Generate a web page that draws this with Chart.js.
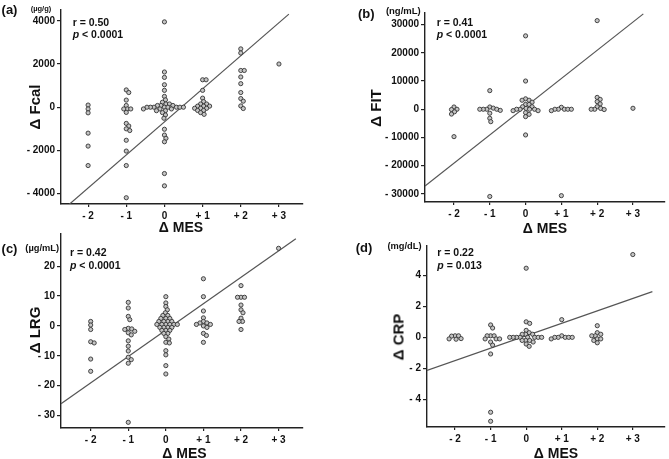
<!DOCTYPE html>
<html>
<head>
<meta charset="utf-8">
<script src="https://cdn.jsdelivr.net/npm/chart.js@4.4.1/dist/chart.umd.min.js"></script>
<style>
    body { margin: 0; background: #fff; width: 669px; height: 459px; position: relative; overflow: hidden;
           font-family: Arial, "Liberation Sans", sans-serif; color: #111; }
    canvas { position: absolute; }
    .c { position: absolute; font-weight: bold; white-space: nowrap; line-height: 1; transform: translate(-50%, -50%); }
    .l { position: absolute; font-weight: bold; white-space: nowrap; line-height: 1; transform: translateY(-50%); }
</style>
</head>
<body>
<canvas id="panelA" width="335" height="236" style="left:0;top:0;width:335px;height:236px"></canvas>
<canvas id="panelB" width="334" height="236" style="left:335px;top:0;width:334px;height:236px"></canvas>
<canvas id="panelC" width="335" height="230" style="left:0;top:229px;width:335px;height:230px"></canvas>
<canvas id="panelD" width="334" height="230" style="left:335px;top:229px;width:334px;height:230px"></canvas>

<script>
// Catégories Δ MES
const mesTicks = [-2, -1, 0, 1, 2, 3];
const mesLabels = ['- 2', '- 1', '0', '+ 1', '+ 2', '+ 3'];

// (a) Δ Fcal (µg/g), un tableau par catégorie de Δ MES
const fcalDelta = [
    [100, -80, -260, -1200, -1800, -2700],
    [800, 680, 330, 80, -80, -80, -80, -240, -750, -870, -1000, -1080, -1530, -2030, -2700, -4190],
    [3950, 1630, 1380, 1040, 780, 500, 340, 230, 150, 150, 80, 80, 80, 0, 0, 0, 0, 0, 0, 0, 0,
     -80, -80, -80, -160, -160, -250, -360, -510, -1020, -1290, -1440, -1600, -3070, -3640],
    [1270, 1270, 780, 420, 260, 150, 150, 50, 50, 50, -50, -50, -50, -150, -150, -250, -330],
    [2700, 2510, 1700, 1700, 1400, 1090, 680, 400, 280, 60, -60],
    [2000]
];
const fcalTicks = [-4000, -2000, 0, 2000, 4000];
const fcalReg = [-680, 1530];        // ordonnée à l'origine, pente
const fcalRegX = [-2.71, 3.26];
const fcalStats = ['r = 0.50', '< 0.0001'];

// (b) Δ FIT (ng/mL)
const fitDelta = [
    [800, 0, -100, -900, -1700, -9700],
    [6600, 800, 400, 0, 0, 0, 0, -400, -1400, -3200, -4400, -30900],
    [26000, 10000, 3700, 3200, 3200, 2500, 1700, 1700, 900, 900, 300, 0, 0, 0, 0, -500, -500, -1200, -1800, -2600, -9100],
    [700, 0, 0, 0, 0, 0, -500, -30600],
    [31400, 4200, 3500, 2700, 1900, 900, 300, 0, 0, -100],
    [350]
];
const fitTicks = [-30000, -20000, -10000, 0, 10000, 20000, 30000];
const fitReg = [900, 10000];
const fitRegX = [-2.81, 3.29];
const fitStats = ['r = 0.41', '< 0.0001'];

// (c) Δ LRG (µg/mL)
const lrgDelta = [
    [1.5, 0.3, -1.2, -5.3, -5.7, -11.1, -15.2],
    [7.9, 6.0, 3.2, 2.1, -0.8, -1.0, -1.2, -1.8, -2.3, -3.0, -5.0, -6.8, -8.4, -10.5, -11.3, -12.5, -32.3],
    [9.8, 7.7, 6.5, 5.4, 4.4, 3.5, 3.5, 2.5, 2.5, 2.5, 1.5, 1.5, 1.5, 1.5, 0.5, 0.5, 0.5, 0.5, 0.5, 0.5,
     -0.5, -0.5, -0.5, -0.5, -1.5, -1.5, -1.5, -2.5, -2.5, -3.6, -4.4, -5.5, -5.7, -8.3, -9.7, -13.3, -16.1],
    [15.8, 9.8, 5.0, 2.7, 1.5, 1.0, 1.0, 0.5, 0.5, 0, -0.5, -2.5, -3.2, -5.5],
    [13.5, 9.6, 9.6, 9.6, 7.0, 5.4, 4.4, 2.6, 1.5, 1.5, -1.2],
    [26.0]
];
const lrgTicks = [-30, -20, -10, 0, 10, 20];
const lrgReg = [-1.4, 8.85];
const lrgRegX = [-2.79, 3.46];
const lrgStats = ['r = 0.42', '< 0.0001'];

// (d) Δ CRP (mg/dL)
const crpDelta = [
    [0.1, 0.1, 0.08, -0.08, -0.1, -0.12],
    [0.8, 0.6, 0.1, 0.1, 0.1, -0.1, -0.1, -0.1, -0.3, -0.5, -1.07, -4.82, -5.4],
    [4.45, 1.0, 0.9, 0.45, 0.3, 0.2, 0.2, 0.2, 0, 0, 0, 0, 0, 0, 0, 0,
     -0.2, -0.2, -0.2, -0.3, -0.43, -0.58],
    [1.14, 0.1, 0, 0, 0, 0, 0, -0.1],
    [0.75, 0.3, 0.2, 0.1, 0.1, -0.1, -0.1, -0.2, -0.35],
    [5.33]
];
const crpTicks = [-4, -2, 0, 2, 4];
const crpReg = [0.10, 0.80];
const crpRegX = [-2.79, 3.55];
const crpStats = ['r = 0.22', '= 0.013'];

const FONT = 'Arial, "Liberation Sans", sans-serif';
const GAP = 3.5; // distance mini entre centres (px) pour le nuage

function fmtTick(v) {
    return v < 0 ? '- ' + Math.abs(v) : String(v);
}

// Disposition en essaim autour de chaque catégorie
function swarm(chart) {
    const xs = chart.scales.x;
    const ys = chart.scales.y;
    const ds = chart.data.datasets[0];
    const placed = [];
    ds.data = ds.data.map(pt => {
        const cx = xs.getPixelForValue(pt.x);
        const cy = ys.getPixelForValue(pt.y);
        let off = 0;
        for (let k = 0; k < 400; k++) {
            off = (k % 2 ? 1 : -1) * Math.ceil(k / 2) * 0.5;
            const ok = placed.every(p => Math.hypot(p.x - (cx + off), p.y - cy) >= GAP);
            if (ok) break;
        }
        placed.push({ x: cx + off, y: cy });
        return { x: xs.getValueForPixel(cx + off), y: pt.y };
    });
    chart.update('none');
}

function makePanel(p) {
    const points = [];
    mesTicks.forEach((m, i) => p.values[i].forEach(v => points.push({ x: m, y: v })));
    const regData = p.regX.map(x => ({ x: x, y: p.reg[0] + p.reg[1] * x }));

    const chart = new Chart(document.getElementById(p.id), {
        type: 'scatter',
        data: {
            datasets: [
                {
                    data: points,
                    pointRadius: 2.1,
                    pointBackgroundColor: '#c4c4c4',
                    pointBorderColor: '#333',
                    pointBorderWidth: 0.9,
                    order: 0
                },
                {
                    type: 'line',
                    data: regData,
                    showLine: true,
                    pointRadius: 0,
                    borderColor: '#555',
                    borderWidth: 1.2,
                    order: 1
                }
            ]
        },
        options: {
            responsive: false,
            animation: false,
            events: [],
            layout: { padding: p.pad },
            plugins: { legend: { display: false }, tooltip: { enabled: false } },
            scales: {
                x: {
                    type: 'linear',
                    min: p.xMin,
                    max: p.xMax,
                    grid: { display: true, drawOnChartArea: false, drawTicks: true, tickLength: 3, color: '#222', lineWidth: 1.2 },
                    border: { display: true, color: '#222', width: 1.4 },
                    ticks: {
                        padding: 3,
                        color: '#111',
                        font: { family: FONT, size: 10, weight: 'bold' },
                        callback: v => mesLabels[mesTicks.indexOf(v)]
                    },
                    afterBuildTicks: s => { s.ticks = mesTicks.map(v => ({ value: v })); },
                    afterFit: s => { s.height = p.xH; s.paddingLeft = 0; s.paddingRight = 0; }
                },
                y: {
                    type: 'linear',
                    min: p.yMin,
                    max: p.yMax,
                    grid: { display: true, drawOnChartArea: false, drawTicks: true, tickLength: 4, color: '#222', lineWidth: 1.2 },
                    border: { display: true, color: '#222', width: 1.4 },
                    ticks: {
                        padding: 2,
                        color: '#111',
                        font: { family: FONT, size: 10, weight: 'bold' },
                        callback: v => fmtTick(v)
                    },
                    afterBuildTicks: s => { s.ticks = p.yTicks.map(v => ({ value: v })); },
                    afterFit: s => { s.width = p.yW; s.paddingTop = 0; s.paddingBottom = 0; }
                }
            }
        }
    });
    swarm(chart);
}

function addText(html, x, y, size, cls) {
    const d = document.createElement('div');
    d.className = cls || 'c';
    d.innerHTML = html;
    d.style.left = x + 'px';
    d.style.top = y + 'px';
    d.style.fontSize = size + 'px';
    document.body.appendChild(d);
    return d;
}

function addLabels(p) {
    addText(p.letter, p.letterPos[0], p.letterPos[1], 13);
    addText(p.unit, p.unitPos[0], p.unitPos[1], p.unitSize);
    addText(p.stats[0], p.statsPos[0], p.statsPos[1], 10.5, 'l');
    addText('<i>p</i> ' + p.stats[1], p.statsPos[0], p.statsPos[1] + 12.5, 10.5, 'l');
    const yt = addText(p.yTitle, p.yTitlePos[0], p.yTitlePos[1], 15);
    yt.style.transform = 'translate(-50%, -50%) rotate(-90deg)';
    addText('Δ MES', p.xTitlePos[0], p.xTitlePos[1], 14);
}

const panels = [
    {
        id: 'panelA', values: fcalDelta, yTicks: fcalTicks, reg: fcalReg, regX: fcalRegX, stats: fcalStats,
        xMin: -2.71, xMax: 3.63, yMin: -4480, yMax: 4500,
        pad: { left: 0, right: 32, top: 10, bottom: 12 }, yW: 61, xH: 20,
        letter: '(a)', letterPos: [9.5, 8.5], unit: '(µg/g)', unitPos: [41, 8.5], unitSize: 7.5,
        statsPos: [72.7, 21.7], yTitle: 'Δ Fcal', yTitlePos: [33.5, 107], xTitlePos: [181, 227]
    },
    {
        id: 'panelB', values: fitDelta, yTicks: fitTicks, reg: fitReg, regX: fitRegX, stats: fitStats,
        xMin: -2.81, xMax: 3.87, yMin: -32850, yMax: 34100,
        pad: { left: 0, right: 1, top: 13, bottom: 14 }, yW: 90, xH: 20,
        letter: '(b)', letterPos: [366.3, 12.5], unit: '(ng/mL)', unitPos: [403.3, 10.7], unitSize: 9.5,
        statsPos: [436.7, 21.7], yTitle: 'Δ FIT', yTitlePos: [375, 108], xTitlePos: [545, 228]
    },
    {
        id: 'panelC', values: lrgDelta, yTicks: lrgTicks, reg: lrgReg, regX: lrgRegX, stats: lrgStats,
        xMin: -2.79, xMax: 3.65, yMin: -34.2, yMax: 30.8,
        pad: { left: 0, right: 32, top: 5, bottom: 11 }, yW: 61, xH: 20,
        letter: '(c)', letterPos: [9.5, 247.8], unit: '(µg/mL)', unitPos: [42.2, 249.3], unitSize: 9.3,
        statsPos: [70, 252.3], yTitle: 'Δ LRG', yTitlePos: [33.5, 330], xTitlePos: [184.5, 453]
    },
    {
        id: 'panelD', values: crpDelta, yTicks: crpTicks, reg: crpReg, regX: crpRegX, stats: crpStats,
        xMin: -2.79, xMax: 3.88, yMin: -5.77, yMax: 5.88,
        pad: { left: 0, right: 1, top: 17, bottom: 12 }, yW: 92, xH: 20,
        letter: '(d)', letterPos: [364, 247], unit: '(mg/dL)', unitPos: [404.5, 247.3], unitSize: 9.3,
        statsPos: [437.3, 252.3], yTitle: 'Δ CRP', yTitlePos: [398, 336.5], xTitlePos: [556, 452.7]
    }
];

document.addEventListener('DOMContentLoaded', function () {
    panels.forEach(p => {
        makePanel(p);
        addLabels(p);
    });
});
</script>
</body>
</html>
